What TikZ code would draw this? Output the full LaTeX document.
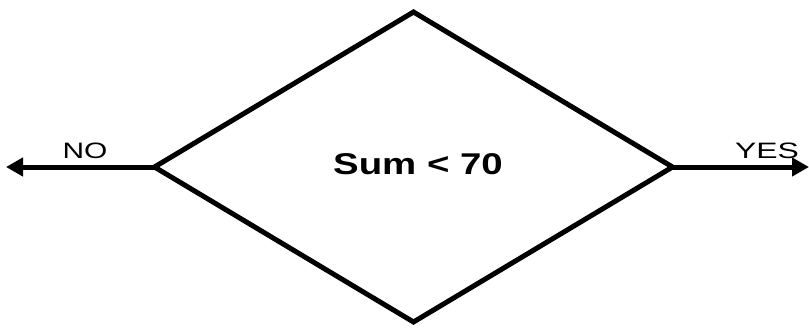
\documentclass[tikz,border=0pt]{standalone}
\usepackage{fontspec}
\setmainfont{Liberation Sans}
\usetikzlibrary{shapes.geometric,arrows.meta}
\begin{document}
\begin{tikzpicture}[x=1pt,y=-1pt,
  dec/.style={draw=black, line width=5pt, shape=diamond, minimum width=518pt, minimum height=310pt, inner sep=0pt, outer sep=0pt, line join=miter},
  arr/.style={line width=5pt, -{Triangle[length=17pt,width=18pt]}},
  lbl/.style={anchor=base, inner sep=0pt, font=\fontsize{22.3}{26}\selectfont}]
\useasboundingbox (0,0) rectangle (809,327);
\node[dec] (d) at (413.5,167) {};
\node[anchor=base, inner sep=0pt, font=\fontsize{30}{36}\selectfont\bfseries] (t) at (418,174) {\scalebox{1.28}[1]{Sum < 70}};
\coordinate (l) at (6,167);
\coordinate (r) at (809,167);
\draw[arr] (d.west) -- (l);
\draw[arr] (d.east) -- (r);
\node[lbl] (no) at (85,158) {\scalebox{1.34}[1]{NO}};
\node[lbl] (yes) at (767,158) {\scalebox{1.43}[1]{YES}};
\end{tikzpicture}
\end{document}
